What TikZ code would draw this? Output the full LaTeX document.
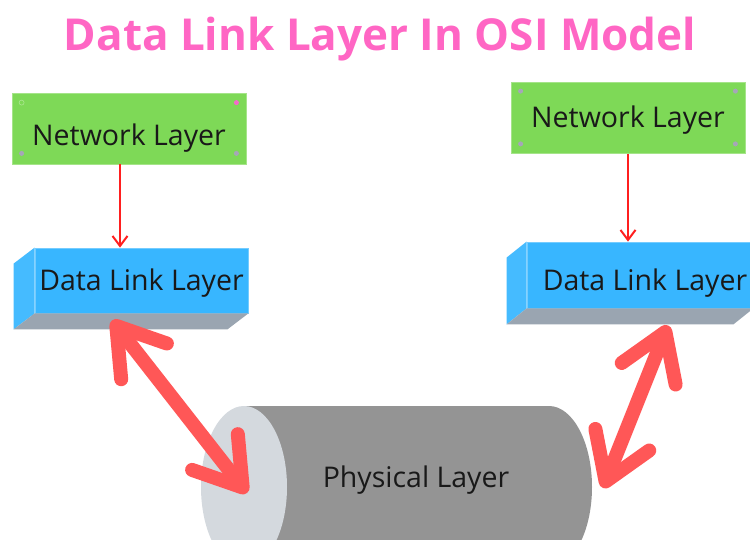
\documentclass[tikz,border=0pt]{standalone}
\usepackage{fontspec}
\setmainfont{Open Sans}
\usetikzlibrary{calc}
\usetikzlibrary{positioning}
\usetikzlibrary{arrows.meta}
\definecolor{titlepink}{HTML}{FF66C4}
\definecolor{netgreen}{HTML}{7ED957}
\definecolor{dlblue}{HTML}{38B6FF}
\definecolor{dlside}{HTML}{45BBFF}
\definecolor{dlgray}{HTML}{9AA5B1}
\definecolor{cylbody}{HTML}{949494}
\definecolor{cylend}{HTML}{D4D9DE}
\definecolor{bigred}{HTML}{FF5757}
\definecolor{thinred}{HTML}{FF1F1F}
\definecolor{pingray}{HTML}{A6A6B8}
\definecolor{pinpink}{HTML}{F46BC9}
\tikzset{
	netbox/.style={fill=netgreen,draw=netgreen!70!white,line width=0.8pt,minimum width=234pt,minimum height=71pt,inner sep=0pt,text depth=0pt,text height=#1,font=\fontsize{28.5}{34}\selectfont,text=black!90},
	dlbox/.style={fill=dlblue,draw=dlblue!70!white,line width=0.8pt,inner sep=0pt,text depth=0pt,text height=#1,font=\fontsize{28.5}{34}\selectfont,text=black!90},
	thinarrow/.style={draw=thinred,line width=2pt,-{Straight Barb[length=10pt,width=15pt]}},
	bigarrow/.style={draw=bigred,line width=14pt,line cap=round,{Straight Barb[length=45pt,width=58pt,line cap=round,line join=round]}-{Straight Barb[length=45pt,width=58pt,line cap=round,line join=round]}},
	pin/.style={fill=pingray}
}
\begin{document}
\begin{tikzpicture}[x=1pt,y=-1pt]
	\clip (0,0) rectangle (750,539);
	\fill[white] (0,0) rectangle (750,539);
	\node[anchor=base,font=\bfseries\fontsize{44}{52}\selectfont,text=titlepink] (title) at (380,50) {Data Link Layer In OSI Model};
	% upper layer
	\node[netbox=33pt] (net l) at (129,128.5) {Network Layer};
	\node[netbox=18pt] (net r) at (628,118) {Network Layer};
	\fill[fill=none,draw=netgreen!60!white,line width=0.5pt] ([shift={(10,10)}]net l.north west) circle (2.5pt);
	\fill[fill=pinpink] ([shift={(-10,10)}]net l.north east) circle (2.5pt);
	\fill[pin] ([shift={(10,-11)}]net l.south west) circle (2.5pt);
	\fill[pin] ([shift={(-10,-11)}]net l.south east) circle (2.5pt);
	\fill[pin] ([shift={(10,9)}]net r.north west) circle (2.5pt);
	\fill[pin] ([shift={(-10,9)}]net r.north east) circle (2.5pt);
	\fill[pin] ([shift={(10,-10)}]net r.south west) circle (2.5pt);
	\fill[pin] ([shift={(-10,-10)}]net r.south east) circle (2.5pt);
	% data link boxes
	\node[dlbox=19pt,minimum width=213pt,minimum height=65pt] (dl l) at (141.5,280.5) {Data Link Layer};
	\node[dlbox=30pt,minimum width=226pt,minimum height=66pt] (dl r) at (640,275) {\hspace{10pt}Data Link Layer};
	\fill[dlside] (dl l.north west) -- ++(-21,16) -- ($(dl l.south west)+(-21,16)$) -- (dl l.south west) -- cycle;
	\fill[dlgray] (dl l.south west) -- (dl l.south east) -- ++(-21,16) -- ($(dl l.south west)+(-21,16)$) -- cycle;
	\fill[dlside] (dl r.north west) -- ++(-20,16) -- ($(dl r.south west)+(-20,16)$) -- (dl r.south west) -- cycle;
	\fill[dlgray] (dl r.south west) -- (dl r.south east) -- ++(-20,16) -- ($(dl r.south west)+(-20,16)$) -- cycle;
	\draw[thinarrow] ([xshift=-9pt]net l.south) -- ([xshift=-9pt]net l.south |- dl l.north);
	\draw[thinarrow] (net r.south) -- (net r.south |- dl r.north);
	% physical medium
	\coordinate (cyl) at (244,487);
	\fill[cylbody] (cyl) ++(0,-81) -- ++(305,0) arc[start angle=90,end angle=-90,x radius=43pt,y radius=81pt] -- ++(-305,0) -- cycle;
	\fill[cylend] (cyl) ellipse[x radius=43pt,y radius=81pt];
	\node[anchor=base,font=\fontsize{28.5}{34}\selectfont,text=black!90] (phys) at (416,487) {Physical Layer};
	\coordinate (end l) at (247,493);
	\coordinate (end r) at (603,488);
	\coordinate (tip l) at ([shift={(-29.5,7)}]dl l.south);
	\coordinate (tip r) at ([shift={(28,17)}]dl r.south);
	\draw[bigarrow] (tip l) -- (end l);
	\draw[bigarrow] (tip r) -- (end r);
\end{tikzpicture}
\end{document}
